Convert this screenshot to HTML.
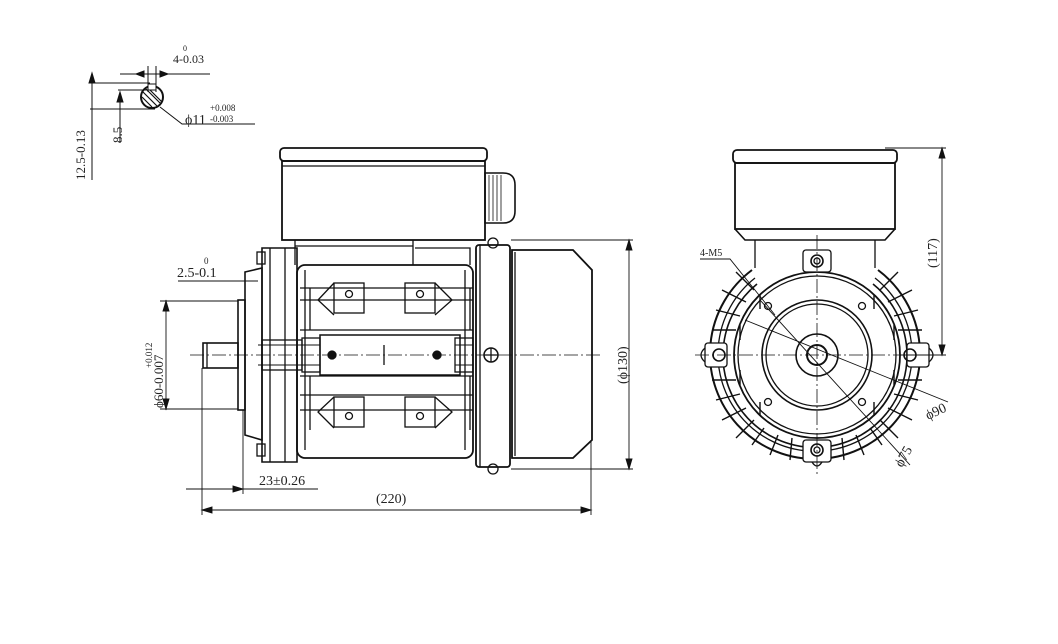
<!DOCTYPE html>
<html><head><meta charset="utf-8"><style>
body{margin:0;background:#fff}
svg{display:block}
text{font-family:"Liberation Serif","DejaVu Serif",serif;fill:#222;stroke:none}
</style></head><body>
<svg width="1058" height="644" viewBox="0 0 1058 644" xmlns="http://www.w3.org/2000/svg" fill="none" stroke="#111" stroke-width="1.3">
<!-- shaft key detail -->
<g stroke-width="1">
<circle cx="152" cy="97" r="11" stroke-width="2"/>
<path d="M143 92 L157 106 M146 89 L160 103 M142 97 L152 107 M148 88 L162 102" stroke-width="1.2"/>
<rect x="148" y="84" width="8" height="6" fill="#fff"/>
<path d="M90 83 H150 M90 109 H155 M118 90 H148 M92 73 V180 M120 92 V143 M148 66 V92 M156 66 V92 M133 74 H210 M120 74 L148 74"/>
<path d="M92 73 l-3 10 h6z M120 92 l-3 10 h6z" fill="#111"/>
<path d="M160 107 L182 124 H255"/>
<path d="M136 74 l8 -3 v6z M168 74 l-8 -3 v6z" fill="#111"/>
</g>
<text x="173" y="63" font-size="12">4-0.03</text><text x="183" y="51" font-size="8">0</text>
<text x="185" y="124" font-size="14">ϕ11</text><text x="210" y="111" font-size="9">+0.008</text><text x="210" y="122" font-size="9">-0.003</text>
<text transform="translate(122,143) rotate(-90)" font-size="13">8.5</text>
<text transform="translate(85,180) rotate(-90)" font-size="13">12.5-0.13</text>

<!-- SIDE VIEW -->
<rect x="280" y="148" width="207" height="13" rx="4" stroke-width="1.8"/>
<rect x="282" y="161" width="203" height="79" stroke-width="1.8"/>
<path d="M282 166 H485" />
<path d="M485 173 h18 q12 0 12 12 v26 q0 12 -12 12 h-18z" stroke-width="1.6"/>
<path d="M489 175 V221 M493 175 V221 M497 175 V221 M501 175 V221" stroke-width="0.8"/>
<path d="M295 240 V265 M413 240 V265 M295 246 H413" />
<path d="M415 248 H470 V265"/>
<rect x="297" y="265" width="176" height="193" rx="8" stroke-width="1.8"/>
<path d="M300 288 H473 M300 300 H473 M300 395 H473 M300 410 H473 M300 330 H473 M300 376 H473" stroke-width="1.2"/>
<rect x="320" y="335" width="140" height="40" stroke-width="1.5"/>
<path d="M310 288 V330 M470 288 V330 M310 376 V430 M470 376 V430 M305 270 V450 M465 270 V450" />
<rect x="334" y="283" width="30" height="30"/><rect x="405" y="283" width="30" height="30"/>
<rect x="334" y="397" width="30" height="30"/><rect x="405" y="397" width="30" height="30"/>
<path d="M334 283 L318 300 L334 315 M435 283 L452 300 L435 315 M334 397 L318 412 L334 428 M435 397 L452 412 L435 428"/>
<circle cx="349" cy="294" r="3.5"/><circle cx="420" cy="294" r="3.5"/><circle cx="349" cy="416" r="3.5"/><circle cx="420" cy="416" r="3.5"/>
<circle cx="332" cy="355" r="4" fill="#111"/><circle cx="437" cy="355" r="4" fill="#111"/>
<path d="M384 345 V365"/>
<path d="M262 248 H297 V462 H262 Z" stroke-width="1.6"/>
<path d="M270 248 V462 M285 248 V462"/>
<rect x="257" y="252" width="8" height="12"/><rect x="257" y="444" width="8" height="12"/>
<rect x="262" y="340" width="40" height="30"/><rect x="302" y="338" width="18" height="34"/>
<rect x="455" y="338" width="18" height="34"/>
<path d="M258 345 H320 M258 365 H320 M455 345 H473 M455 365 H473" stroke-width="1"/>
<path d="M245 272 L262 268 V440 L245 435 Z" stroke-width="1.6"/>
<rect x="238" y="300" width="7" height="110" stroke-width="1.6"/>
<rect x="203" y="343" width="35" height="25" stroke-width="1.6"/>
<path d="M207 343 V368"/>
<rect x="476" y="245" width="34" height="222" rx="3" stroke-width="1.8"/>
<path d="M480 245 V467"/>
<circle cx="493" cy="243" r="5"/><circle cx="493" cy="469" r="5"/>
<circle cx="491" cy="355" r="7" stroke-width="1.5"/><path d="M484 355 H498 M491 348 V362"/>
<path d="M512 250 H573 L592 270 V440 L573 458 H512 Z" stroke-width="1.8"/>
<path d="M515 252 V456"/>
<path d="M190 355 H600" stroke-dasharray="14 3 2 3" stroke-width="0.8"/>
<g stroke-width="0.9">
<path d="M511 240 H633 M511 469 H633 M629 240 V469"/>
<path d="M629 240 l-3 10 h6z M629 469 l-3 -10 h6z" fill="#111"/>
<path d="M202 368 V515 M591 440 V515 M202 510 H591"/>
<path d="M202 510 l10 -3 v6z M591 510 l-10 -3 v6z" fill="#111"/>
<path d="M243 410 V494 M186 489 H318"/>
<path d="M243 489 l-10 -3 v6z" fill="#111"/>
<path d="M178 281 H258 M245 281 V295"/>
<path d="M166 300 V410 M160 301 H238 M160 409 H238"/>
<path d="M166 301 l-3 10 h6z M166 409 l-3 -10 h6z" fill="#111"/>
</g>
<text transform="translate(627,384) rotate(-90)" font-size="14">(ϕ130)</text>
<text x="376" y="503" font-size="14">(220)</text>
<text x="259" y="485" font-size="14">23±0.26</text>
<text x="177" y="277" font-size="14">2.5-0.1</text><text x="204" y="264" font-size="9">0</text>
<text transform="translate(163,408) rotate(-90)" font-size="13">ϕ60-0.007</text>
<text transform="translate(152,368) rotate(-90)" font-size="9">+0.012</text>

<!-- FRONT VIEW -->
<rect x="733" y="150" width="164" height="13" rx="4" stroke-width="1.8"/>
<rect x="735" y="163" width="160" height="66" stroke-width="1.8"/>
<path d="M735 229 L745 240 H885 L895 229" stroke-width="1.6"/>
<path d="M755 240 V268 M875 240 V268"/>
<path d="M752 270 A105 105 0 1 0 878 270" stroke-width="2"/>
<path d="M755 278 A97 97 0 1 0 875 278"/>
<path d="M757 284 A92 92 0 1 0 873 284" stroke-width="1.6"/>
<circle cx="817" cy="355" r="83" stroke-width="1.8"/>
<circle cx="817" cy="355" r="79"/>
<circle cx="817" cy="355" r="55" stroke-width="1.6"/>
<circle cx="817" cy="355" r="51"/>
<circle cx="817" cy="355" r="21" stroke-width="1.6"/>
<circle cx="817" cy="355" r="10" stroke-width="2"/>
<g stroke-width="1.4">
<path d="M712 330 H736 M712 380 H736 M716 310 L740 316 M716 400 L740 394 M722 290 L746 302 M722 420 L746 408 M736 272 L754 290 M736 438 L754 420 M752 445 L764 428 M770 455 L778 435 M790 460 L792 438"/>
<path d="M922 330 H898 M922 380 H898 M918 310 L894 316 M918 400 L894 394 M912 290 L888 302 M912 420 L888 408 M898 272 L880 290 M898 438 L880 420 M882 445 L870 428 M864 455 L856 435 M844 460 L842 438"/>
<path d="M740 325 v15 M740 370 v15 M894 325 v15 M894 370 v15 M760 295 v14 M874 295 v14 M760 402 v14 M874 402 v14"/>
</g>
<circle cx="768" cy="306" r="3.5"/><circle cx="862" cy="306" r="3.5"/><circle cx="768" cy="402" r="3.5"/><circle cx="862" cy="402" r="3.5"/>
<rect x="803" y="250" width="28" height="22" rx="3" fill="#fff"/><circle cx="817" cy="261" r="6" stroke-width="1.6"/><circle cx="817" cy="261" r="3"/>
<rect x="803" y="440" width="28" height="22" rx="3" fill="#fff"/><circle cx="817" cy="450" r="6" stroke-width="1.6"/><circle cx="817" cy="450" r="3"/>
<path d="M812 462 q5 8 10 0"/>
<rect x="705" y="343" width="22" height="24" rx="3" fill="#fff"/><circle cx="719" cy="355" r="6" stroke-width="1.6"/>
<rect x="907" y="343" width="22" height="24" rx="3" fill="#fff"/><circle cx="910" cy="355" r="6" stroke-width="1.6"/>
<path d="M705 348 q-8 7 0 14 M929 348 q8 7 0 14"/>
<path d="M695 355 H935 M817 235 V475" stroke-dasharray="14 3 2 3" stroke-width="0.8"/>
<g stroke-width="0.9">
<path d="M700 259 H730 L775 315"/>
<path d="M745 320 L948 402 M760 300 L910 465"/>
<path d="M885 148 H946 M900 355 H946 M942 148 V355"/>
<path d="M942 148 l-3 10 h6z M942 355 l-3 -10 h6z" fill="#111"/>
</g>
<text x="700" y="256" font-size="10">4-M5</text>
<text transform="translate(937,268) rotate(-90)" font-size="14">(117)</text>
<text transform="translate(928,420) rotate(-25)" font-size="14">ϕ90</text>
<text transform="translate(902,468) rotate(-60)" font-size="14">ϕ75</text>
</svg>
</body></html>
